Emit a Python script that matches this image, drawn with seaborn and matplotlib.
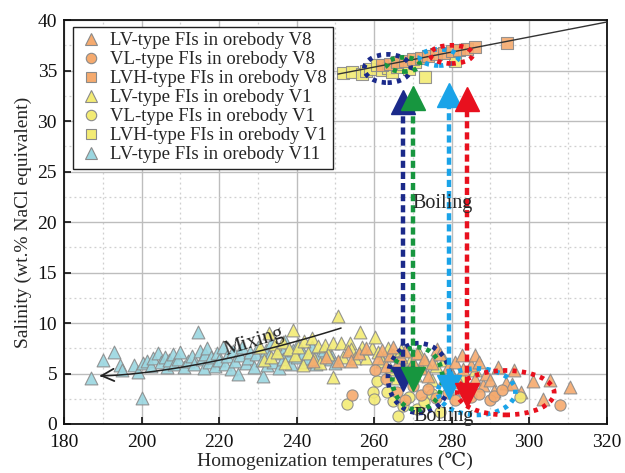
import numpy as np
import pandas as pd
import matplotlib
matplotlib.use("Agg")
import matplotlib.pyplot as plt
from matplotlib.patches import Ellipse
from matplotlib.lines import Line2D
import seaborn as sns

# ---------------- data ----------------
v11_lv_T = [187, 190, 193, 194.5, 195, 198, 199, 200, 200.5, 201.5, 202.5, 203, 204.3, 205, 206, 206.5,
            207, 208, 208.5, 209.5, 210, 211, 212, 213, 213.5, 214.6, 215, 215.5, 216, 216.5, 217, 217.5,
            218, 219, 219.5, 220, 221, 221.5, 222, 223, 223.5, 224, 225, 225.5, 226, 227, 227.5, 228,
            229, 229.5, 230, 231.4, 231, 232, 232.5, 233, 233.5, 234, 235, 235.5, 236, 236.5, 237, 238,
            238.5, 239, 240, 240.5, 241.7, 242, 243, 244, 245, 246, 247, 248.6, 249, 250]
v11_lv_S = [4.6, 6.3, 7.1, 5.8, 5.3, 5.8, 5.1, 2.6, 6.0, 6.2, 5.7, 6.5, 7.0, 6.1, 6.6, 5.6,
            6.3, 6.9, 5.9, 6.4, 7.1, 5.6, 6.2, 6.7, 5.9, 9.1, 7.2, 6.4, 5.5, 6.9, 7.5, 6.1,
            6.6, 5.7, 7.0, 6.3, 7.6, 5.9, 6.7, 5.4, 7.2, 6.2, 5.0, 6.8, 7.6, 6.0, 6.5, 7.1,
            5.6, 6.9, 7.6, 4.75, 6.3, 7.3, 5.8, 6.7, 8.0, 6.1, 7.0, 5.5, 7.5, 6.4, 8.2, 6.8,
            5.9, 7.3, 6.6, 7.9, 7.0, 6.1, 6.5, 7.6, 5.9, 6.9, 7.3, 7.0, 6.4, 6.0]

v1_lv_T = [230.6, 231.5, 233, 233.5, 234.5, 235, 236.6, 237, 238, 239, 239.5, 240.5, 241.8, 242, 243,
           243.9, 244.5, 245.5, 246.1, 247.4, 248, 249.5, 249.5, 250.8, 251.5, 252, 253.8, 254, 255.1,
           256.4, 257, 258, 259.4, 260.3, 261, 262, 263.5, 264, 265, 266, 267, 268, 269.5, 270.5,
           271.5, 272, 273.5, 275, 276, 278, 280, 283, 286]
v1_lv_S = [7.6, 6.3, 9.0, 6.6, 7.9, 7.1, 8.1, 6.0, 7.4, 9.3, 6.8, 7.6, 5.8, 8.2, 7.0,
           8.5, 6.4, 7.7, 6.0, 7.8, 6.9, 8.0, 4.7, 10.7, 8.0, 6.6, 8.0, 7.4, 6.5,
           9.1, 7.6, 6.5, 7.5, 8.6, 7.1, 6.2, 7.5, 5.4, 6.8, 4.6, 7.3, 5.8, 6.4, 4.9,
           7.0, 5.6, 6.1, 4.4, 5.7, 6.3, 5.0, 4.6, 5.3]

v8_lv_T = [244.3, 247.5, 250.8, 253.4, 254, 256, 258, 261, 262, 263, 264, 265, 266, 267, 268, 269,
           270, 271, 272, 273, 274, 275, 276.2, 277, 278, 279, 280, 281, 282, 282.6, 283, 284, 285,
           286, 286.1, 287, 288, 289, 290, 291, 292, 294, 295.5, 296, 298, 301, 303.7, 305.4, 310.6]
v8_lv_S = [6.2, 6.6, 6.2, 7.2, 6.2, 7.0, 7.5, 6.5, 7.3, 5.7, 6.8, 7.6, 5.9, 6.6, 7.2, 5.3,
           6.1, 7.0, 5.5, 6.4, 4.8, 6.0, 7.4, 6.9, 4.5, 5.6, 4.9, 6.1, 4.2, 6.8, 5.4, 3.6, 5.8,
           4.5, 6.8, 6.1, 3.9, 5.0, 4.4, 3.3, 5.6, 4.1, 4.0, 5.3, 3.2, 4.3, 2.5, 4.4, 3.7]

v8_vl_T = [254.2, 260.3, 263, 266, 268, 270, 272, 274, 276, 279, 281, 283, 285, 287, 289.9, 291, 293, 308]
v8_vl_S = [2.9, 5.3, 4.5, 3.2, 2.4, 3.8, 2.9, 3.5, 2.6, 3.1, 2.4, 3.3, 2.7, 3.0, 2.4, 2.8, 3.4, 1.9]

v1_vl_T = [253, 259.7, 260, 260.9, 263.4, 265, 266.3, 267.5, 269, 271, 273, 275, 277, 297.7]
v1_vl_S = [2.0, 3.2, 2.45, 4.3, 3.2, 2.3, 0.8, 1.8, 2.7, 1.5, 2.2, 3.0, 1.2, 2.7]

v1_lvh_T = [252.1, 254.2, 256.8, 258, 259, 260.7, 262, 263.5, 264.6, 266, 267.5, 269, 270.5, 273.2, 280.9]
v1_lvh_S = [34.8, 34.9, 34.7, 35.0, 35.2, 35.5, 35.1, 35.3, 34.9, 35.4, 35.6, 35.2, 35.8, 34.4, 35.9]

v8_lvh_T = [262, 264, 266, 268, 270, 272, 274, 276, 278, 280, 282, 284, 286, 294.2]
v8_lvh_S = [35.5, 35.6, 35.8, 35.9, 36.1, 36.2, 36.4, 36.6, 36.7, 36.9, 37.0, 37.1, 37.3, 37.7]

# trend line on top cluster (endpoints)
trend_T = [250.7, 320]
trend_S = [34.65, 39.8]

# boiling arrows: x, bottom S, top S, colour
boil_T = [267.4, 270.0, 279.3, 284.0]
boil_bot = [4.5, 4.5, 3.7, 2.9]
boil_top = [31.9, 32.3, 32.6, 32.2]
boil_col = ["#1B2A8A", "#17963F", "#1AA3E8", "#E8101E"]

labels = ["LV-type FIs in orebody V8", "VL-type FIs in orebody V8", "LVH-type FIs in orebody V8",
          "LV-type FIs in orebody V1", "VL-type FIs in orebody V1", "LVH-type FIs in orebody V1",
          "LV-type FIs in orebody V11"]

# ---------------- style ----------------
sns.set_theme(style="white")
plt.rcParams["font.family"] = ["Liberation Serif", "DejaVu Serif", "DejaVu Sans"]

ORANGE = "#F5AA6E"
YELLOW = "#F3EB74"
BLUE = "#9AD6E0"
EDGE = "#8A8A8A"

fig = plt.figure(figsize=(6.25, 4.73), dpi=100)
ax = fig.add_axes([0.1024, 0.1036, 0.868, 0.854])

groups = [
    (v8_lv_T, v8_lv_S, "^", ORANGE, labels[0]),
    (v8_vl_T, v8_vl_S, "o", ORANGE, labels[1]),
    (v8_lvh_T, v8_lvh_S, "s", ORANGE, labels[2]),
    (v1_lv_T, v1_lv_S, "^", YELLOW, labels[3]),
    (v1_vl_T, v1_vl_S, "o", YELLOW, labels[4]),
    (v1_lvh_T, v1_lvh_S, "s", YELLOW, labels[5]),
    (v11_lv_T, v11_lv_S, "^", BLUE, labels[6]),
]
order_draw = [6, 3, 0, 4, 1, 5, 2]
for i in order_draw:
    T, S, m, c, lab = groups[i]
    df = pd.DataFrame({"T": T, "S": S})
    sz = 85 if m == "^" else 65
    sns.scatterplot(data=df, x="T", y="S", marker=m, color=c, edgecolor=EDGE, linewidth=0.8,
                    s=sz, alpha=0.9, ax=ax, zorder=3, legend=False)

# trend line
ax.plot(trend_T, trend_S, color="#333333", lw=1.0, zorder=4)

# boiling arrows
for x, yb, yt, c in zip(boil_T, boil_bot, boil_top, boil_col):
    ax.plot([x, x], [yb, yt - 1.0], color=c, lw=3.2, linestyle=(0, (1.6, 0.9)), zorder=6,
            solid_capstyle="butt", dash_capstyle="butt")
    ax.plot([x], [yt], marker="^", markersize=17, color=c, markeredgecolor=c, zorder=7, linestyle="none")
    ax.plot([x], [yb], marker="v", markersize=17, color=c, markeredgecolor=c, zorder=7, linestyle="none")

# dotted ellipses
ell_top = [((263.5, 35.2), 12, 2.8, boil_col[0]), ((267.6, 35.6), 8.5, 1.4, boil_col[1]),
           ((276.8, 36.3), 10, 1.6, boil_col[2]), ((280.0, 36.6), 11, 1.8, boil_col[3])]
ell_bot = [((271.6, 4.55), 16, 6.9, boil_col[0]), ((271.2, 4.5), 13, 6.2, boil_col[1]),
           ((286.5, 3.2), 20, 4.6, boil_col[2]), ((294.0, 3.1), 25, 4.4, boil_col[3])]
for (c0, w, h, col) in ell_top + ell_bot:
    e = Ellipse(c0, w, h, fill=False, edgecolor=col, lw=3.4, linestyle=(0, (0.9, 1.1)), zorder=5)
    ax.add_patch(e)

# mixing curve
mx = np.linspace(251.5, 189.5, 60)
t = (mx - 188.5) / (251.5 - 188.5)
my = 4.75 + 4.75 * t ** 1.6
ax.plot(mx, my, color="#222222", lw=1.1, zorder=6)
ax.annotate("", xy=(188.5, 4.75), xytext=(190.5, 4.80),
            arrowprops=dict(arrowstyle="->", color="#222222", lw=1.3, mutation_scale=22), zorder=6)
ax.text(229.0, 8.1, "Mixing", rotation=17, fontsize=15, ha="center", va="center", zorder=8)

ax.text(269.8, 21.8, "Boiling", fontsize=14.5, ha="left", va="center", zorder=8)
ax.text(278.0, 0.7, "Boiling", fontsize=14.5, ha="center", va="center", zorder=8)

# axes
ax.set_xlim(180, 320)
ax.set_ylim(0, 40)
ax.set_xticks(np.arange(180, 321, 20))
ax.set_yticks(np.arange(0, 41, 5))
ax.set_xticks(np.arange(190, 320, 20), minor=True)
ax.set_yticks(np.arange(2.5, 40, 5), minor=True)
ax.grid(which="major", color="#BDBDBD", lw=1.0, zorder=0)
ax.grid(which="minor", color="#CFCFCF", lw=0.9, linestyle=(0, (1.5, 2.5)), zorder=0)
ax.set_axisbelow(True)
ax.tick_params(axis="both", which="major", direction="in", length=5, width=1.2, labelsize=14,
               bottom=True, left=True, top=False, right=False, colors="#111111")
ax.tick_params(axis="x", which="major", pad=7)
ax.tick_params(axis="y", which="major", pad=5)
ax.tick_params(axis="both", which="minor", length=0)
for sp in ax.spines.values():
    sp.set_color("#111111")
    sp.set_linewidth(1.3)
ax.set_xlabel("Homogenization temperatures (℃)", fontsize=14, labelpad=1)
ax.set_ylabel("Salinity (wt.% NaCl equivalent)", fontsize=14, labelpad=4)

# legend
handles = []
for i in range(7):
    T, S, m, c, lab = groups[i]
    handles.append(Line2D([], [], marker=m, linestyle="none", markersize=8.5 if m == "^" else 7.5,
                          markerfacecolor=c, markeredgecolor=EDGE, markeredgewidth=0.8, label=lab))
leg = ax.legend(handles=handles, loc="upper left", bbox_to_anchor=(0.016, 0.984), fontsize=13.5,
                frameon=True, fancybox=False, edgecolor="#222222", framealpha=1, borderpad=0.3,
                labelspacing=0.1, handletextpad=0.3, handlelength=1.4, borderaxespad=0)
leg.get_frame().set_linewidth(1.0)
leg.set_zorder(10)

fig.savefig("out.png", dpi=100)
